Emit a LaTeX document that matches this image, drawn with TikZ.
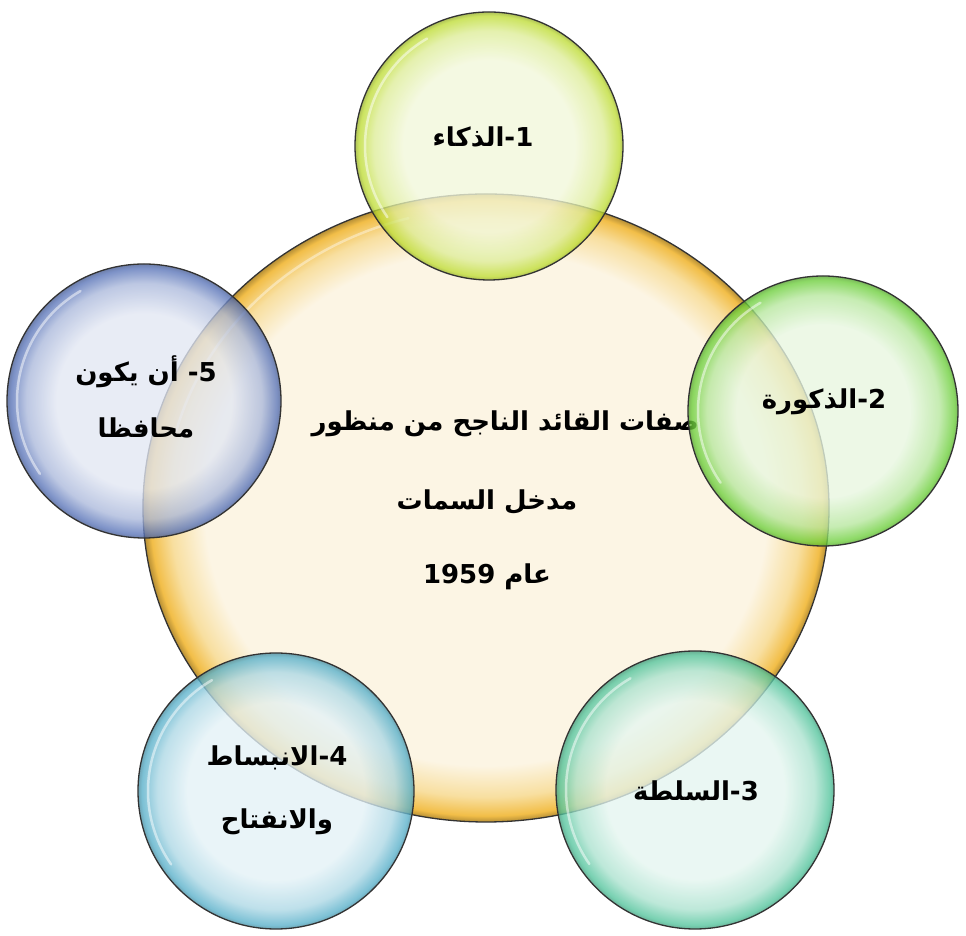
\documentclass[tikz,border=0pt]{standalone}
\usepackage{fontspec}
\usetikzlibrary{shapes.geometric}
\TeXXeTstate=1
\newfontfamily\arabicfont[Script=Arabic]{DejaVu Sans}

% bubble colours: pale centre, rim
\definecolor{goldpale}{HTML}{FCF5E4}
\definecolor{goldmid}{HTML}{F8DFA0}
\definecolor{goldrim}{HTML}{F2BE48}
\definecolor{apale}{HTML}{F2F8DA}
\definecolor{arim}{HTML}{BFDD35}
\definecolor{bpale}{HTML}{E8F7E0}
\definecolor{brim}{HTML}{6CCF3A}
\definecolor{cpale}{HTML}{E5F6F0}
\definecolor{crim}{HTML}{52C49C}
\definecolor{dpale}{HTML}{E4F2F7}
\definecolor{drim}{HTML}{58B0CA}
\definecolor{epale}{HTML}{E2E7F3}
\definecolor{erim}{HTML}{5873B8}

% radial shadings: the circle edge sits at 25bp
\newcommand\bubbleshade[3]{%
  \pgfdeclareradialshading{#1}{\pgfpoint{0bp}{0bp}}{%
    color(0bp)=(#2); color(16bp)=(#2); color(21.5bp)=(#2!60!#3);
    color(24.3bp)=(#3); color(25bp)=(#3!80!black); color(50bp)=(#3!80!black)}}
\bubbleshade{bubA}{apale}{arim}
\bubbleshade{bubB}{bpale}{brim}
\bubbleshade{bubC}{cpale}{crim}
\bubbleshade{bubD}{dpale}{drim}
\bubbleshade{bubE}{epale}{erim}
\pgfdeclareradialshading{bubGold}{\pgfpoint{0bp}{0bp}}{%
  color(0bp)=(goldpale); color(20.5bp)=(goldpale); color(23bp)=(goldmid);
  color(24.5bp)=(goldrim); color(25bp)=(goldrim!75!black); color(50bp)=(goldrim!75!black)}

\tikzset{
  rimline/.style={draw=black!80, line width=1.3pt},
  bubble/.style={circle, inner sep=0pt, minimum size=#1, rimline,
    fill opacity=0.78, text opacity=1},
  hilite/.style={white, line width=2.5pt, opacity=0.5, line cap=round},
  lbl/.style={font=\arabicfont\bfseries\fontsize{26}{58}\selectfont,
    align=center, text=black, inner sep=0pt},
}

\begin{document}
\begin{tikzpicture}[x=1pt,y=1pt]
\useasboundingbox (0,0) rectangle (966,936);
\fill[white] (0,0) rectangle (966,936);

% central ellipse
\node[ellipse, inner sep=0pt, minimum width=686pt, minimum height=628pt,
      rimline, shading=bubGold] (big) at (486,428) {};
\draw[hilite, opacity=0.4] (big.center) ++(105:300) arc[start angle=105, end angle=165, x radius=328, y radius=300];

% central title, three lines
\node[lbl, anchor=east] (t1) at (699,512) {\beginR صفات القائد الناجح  من منظور\endR};
\node[lbl] (t2) at (487,434) {\beginR مدخل السمات\endR};
\node[lbl] (t3) at (487,359) {\beginR عام \beginL 1959\endL\endR};

% five satellite bubbles
\node[bubble=268pt, shading=bubA] (c1) at (489,790) {};
\node[bubble=270pt, shading=bubB] (c2) at (823,525) {};
\node[bubble=278pt, shading=bubC] (c3) at (695,146) {};
\node[bubble=276pt, shading=bubD] (c4) at (276,145) {};
\node[bubble=274pt, shading=bubE] (c5) at (144,535) {};

\foreach \c/\r in {c1/124, c2/125, c3/129, c4/128, c5/127}
  \draw[hilite] (\c.center) ++(120:\r) arc[start angle=120, end angle=215, radius=\r];

% satellite labels
\node[lbl] (l1) at (483,799) {\beginR 1-الذكاء\endR};
\node[lbl] (l2) at (824,534) {\beginR 2-الذكورة\endR};
\node[lbl] (l3) at (696,145) {\beginR 3-السلطة\endR};
\node[lbl, font=\arabicfont\bfseries\fontsize{26}{63}\selectfont] (l4) at (277,146)
  {\beginR 4-الانبساط\endR\\\beginR والانفتاح\endR};
\node[lbl, font=\arabicfont\bfseries\fontsize{26}{56}\selectfont] (l5) at (146,539)
  {\beginR 5- أن يكون\endR\\\beginR محافظا\endR};
\end{tikzpicture}
\end{document}
